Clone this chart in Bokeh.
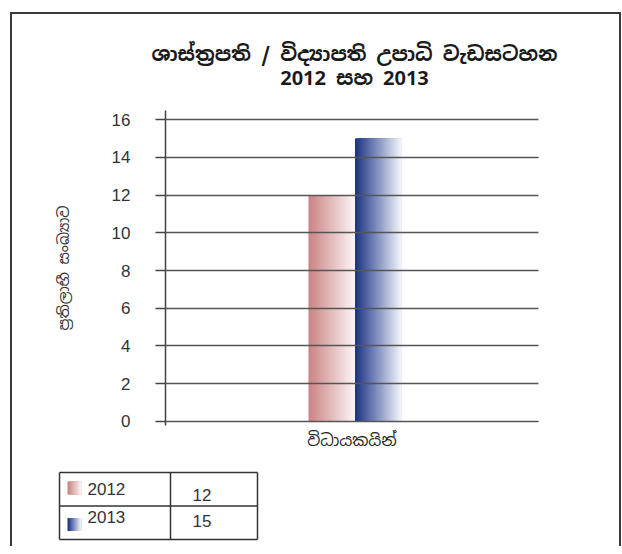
from bokeh.plotting import figure
from bokeh.models import Range1d, FactorRange, FixedTicker, ColumnDataSource
from bokeh.transform import dodge
from bokeh.layouts import column
from bokeh.core.properties import value
from bokeh.embed import file_html
from bokeh.resources import INLINE

# ---------------- data ----------------
title_line1 = "ශාස්ත්‍රපති / විද්‍යාපති උපාධි වැඩසටහන"
title_line2 = "2012 සහ 2013"
y_title = "ප්‍රතිලාභී සංඛ්‍යාව"
categories = ["විධායකයින්"]
years = ["2012", "2013"]
values_2012 = [12]
values_2013 = [15]
y_ticks = [0, 2, 4, 6, 8, 10, 12, 14, 16]
grad_colors = {"2012": ("#cc8484", "#fbf4f4"), "2013": ("#1d3486", "#f2f4fb")}

SIN = "'Noto Sans Sinhala', 'Noto Sans', sans-serif"
NUM = "'Liberation Sans', Arial, sans-serif"


def blend(c1, c2, t):
    a = [int(c1[i:i + 2], 16) for i in (1, 3, 5)]
    b = [int(c2[i:i + 2], 16) for i in (1, 3, 5)]
    return "#%02x%02x%02x" % tuple(round(a[k] + (b[k] - a[k]) * t) for k in range(3))


def blank_panel(height):
    f = figure(width=W, height=height, output_backend="svg", toolbar_location=None, title=None,
               x_range=Range1d(0, W), y_range=Range1d(height, 0),
               x_axis_type=None, y_axis_type=None, min_border=0)
    f.frame_align = False
    f.outline_line_color = None
    f.grid.visible = False
    f.background_fill_color = "white"
    f.border_fill_color = "white"
    return f


W = 607

# ---------------- title header ----------------
head = blank_panel(96)
title_cx = 342
head.text(x=[title_cx, title_cx], y=[39, 63], text=[title_line1, title_line2],
          text_font=value(SIN), text_font_size="20px", text_font_style="bold",
          text_color="#1a1a1a", text_align="center", text_baseline="middle")

# ---------------- main chart ----------------
p = figure(width=W, height=360, output_backend="svg", toolbar_location=None, title=None,
           x_range=FactorRange(factors=categories, range_padding=0),
           y_range=Range1d(-0.212, 16.477),
           min_border_left=153, min_border_right=81, min_border_top=0, min_border_bottom=45)
p.frame_align = False
p.outline_line_color = None
p.background_fill_color = "white"
p.border_fill_color = "white"

# gradient bars: each slice runs to the bar's right edge, drawn left to right
bar_w = 0.1247
shift = 0.008
nslice = 40
series = {"2012": values_2012, "2013": values_2013}
offsets = {"2012": -bar_w / 2 + shift, "2013": bar_w / 2 + shift}
for yr in years:
    src = ColumnDataSource(dict(cat=categories, v=series[yr]))
    cl, cr = grad_colors[yr]
    bar_left = offsets[yr] - bar_w / 2
    bar_right = offsets[yr] + bar_w / 2
    for i in range(nslice):
        t = i / (nslice - 1)
        s_left = bar_left + i * bar_w / nslice
        p.vbar(x=dodge("cat", (s_left + bar_right) / 2, range=p.x_range), top="v", bottom=0,
               width=bar_right - s_left, source=src,
               fill_color=blend(cl, cr, t), line_color=None)

# y axis
p.yaxis.ticker = FixedTicker(ticks=y_ticks)
p.yaxis.major_tick_out = 10
p.yaxis.major_tick_in = 0
p.yaxis.minor_tick_line_color = None
p.yaxis.major_tick_line_color = "#444444"
p.yaxis.major_tick_line_width = 1.5
p.yaxis.axis_line_color = "#444444"
p.yaxis.axis_line_width = 1.5
p.yaxis.major_label_standoff = 25
p.yaxis.major_label_text_font = NUM
p.yaxis.major_label_text_font_size = "17px"
p.yaxis.major_label_text_color = "#333333"
p.yaxis.axis_label = y_title
p.yaxis.axis_label_text_font = SIN
p.yaxis.axis_label_text_font_size = "15px"
p.yaxis.axis_label_text_font_style = "normal"
p.yaxis.axis_label_text_color = "#333333"
p.yaxis.axis_label_standoff = 36

# x axis
p.xaxis.axis_line_color = None
p.xaxis.major_tick_line_color = None
p.xaxis.major_tick_out = 0
p.xaxis.major_tick_in = 0
p.xaxis.minor_tick_line_color = None
p.xaxis.major_label_standoff = 4
p.xaxis.major_label_text_font = SIN
p.xaxis.major_label_text_font_size = "16px"
p.xaxis.major_label_text_color = "#222222"

# grid drawn over the bars
p.xgrid.visible = False
p.ygrid.grid_line_color = "#555555"
p.ygrid.grid_line_width = 1.6
p.ygrid.level = "overlay"

# ---------------- legend table ----------------
p2 = blank_panel(76)
tbl_left, tbl_right, tbl_top, row_h, col_split = 47, 245, 2, 33.5, 158
tbl_bottom = tbl_top + row_h * len(years)
line_kw = dict(line_color="#333333", line_width=1.5)
p2.segment(x0=[tbl_left, tbl_left, tbl_left, tbl_left, tbl_right, col_split],
           y0=[tbl_top, tbl_top + row_h, tbl_bottom, tbl_top, tbl_top, tbl_top],
           x1=[tbl_right, tbl_right, tbl_right, tbl_left, tbl_right, col_split],
           y1=[tbl_top, tbl_top + row_h, tbl_bottom, tbl_bottom, tbl_bottom, tbl_bottom],
           **line_kw)

year_dy = [16.5, 10.5]
val_dy = [22, 15]
sw_dy = [9, 12]
sw_left, sw_w, sw_h = 55, 14, 13
table_vals = [values_2012[0], values_2013[0]]
for r, yr in enumerate(years):
    top = tbl_top + r * row_h
    cl, cr = grad_colors[yr]
    n = 12
    for i in range(n):
        t = i / (n - 1)
        p2.quad(left=[sw_left + i * sw_w / n], right=[sw_left + sw_w],
                top=[top + sw_dy[r]], bottom=[top + sw_dy[r] + sw_h],
                fill_color=blend(cl, cr, t), line_color=None)
    p2.text(x=[sw_left + sw_w + 6], y=[top + year_dy[r]], text=[yr],
            text_font=value(NUM), text_font_size="17px", text_color="#333333",
            text_baseline="middle", text_align="left")
    p2.text(x=[col_split + 22], y=[top + val_dy[r]], text=[str(table_vals[r])],
            text_font=value(NUM), text_font_size="17px", text_color="#333333",
            text_baseline="middle", text_align="left")

layout = column(head, p, p2, styles={"border-left": "2px solid #3a3a3a",
                                     "border-top": "2px solid #3a3a3a",
                                     "border-right": "2px solid #3a3a3a",
                                     "margin-left": "10px", "margin-top": "12px"})

open("out.html", "w").write(file_html(layout, INLINE))
